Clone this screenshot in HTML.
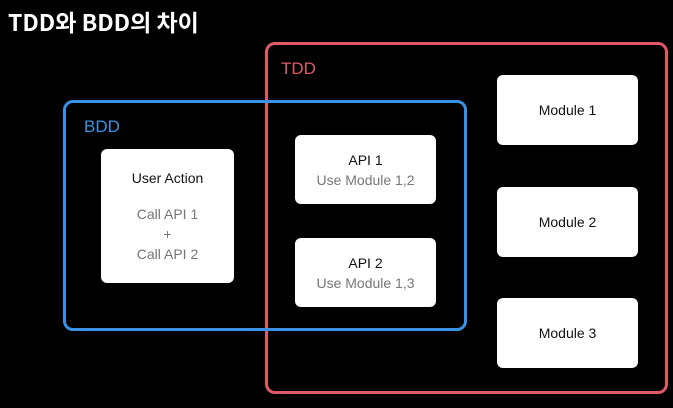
<!DOCTYPE html>
<html><head><meta charset="utf-8"><style>
body{margin:0;width:673px;height:408px;background:#000;position:relative;overflow:hidden;font-family:"Liberation Sans","Noto Sans CJK KR",sans-serif}
.a{position:absolute;box-sizing:border-box}
.box{position:absolute;background:#fff;border-radius:6px;display:flex;flex-direction:column;align-items:center;justify-content:center;font-size:14px;color:#111;text-align:center;line-height:20px}
.g{color:#777}
</style></head><body>
<div class="a" style="left:8px;top:4px;color:#fff;font-size:23px;font-weight:bold;font-family:'Noto Sans CJK KR',sans-serif">TDD와 BDD의 차이</div>
<div class="a" style="left:265px;top:42px;width:403px;height:352px;border:3px solid #e05a66;border-radius:10px"></div>
<div class="a" style="left:63px;top:100px;width:404px;height:231px;border:3px solid #3a92e6;border-radius:10px"></div>
<div class="a" style="left:281px;top:59px;color:#e05a66;font-size:17px">TDD</div>
<div class="a" style="left:84px;top:117px;color:#3a92e6;font-size:17px">BDD</div>
<div class="box" style="left:101px;top:149px;width:133px;height:134px;justify-content:flex-start;padding-top:19px;box-sizing:border-box"><div>User Action</div><div class="g" style="margin-top:16px">Call API 1<br>+<br>Call API 2</div></div>
<div class="box" style="left:295px;top:135px;width:141px;height:69px"><div>API 1</div><div class="g">Use Module 1,2</div></div>
<div class="box" style="left:295px;top:238px;width:141px;height:69px"><div>API 2</div><div class="g">Use Module 1,3</div></div>
<div class="box" style="left:497px;top:75px;width:141px;height:70px">Module 1</div>
<div class="box" style="left:497px;top:187px;width:141px;height:70px">Module 2</div>
<div class="box" style="left:497px;top:298px;width:141px;height:70px">Module 3</div>
</body></html>
